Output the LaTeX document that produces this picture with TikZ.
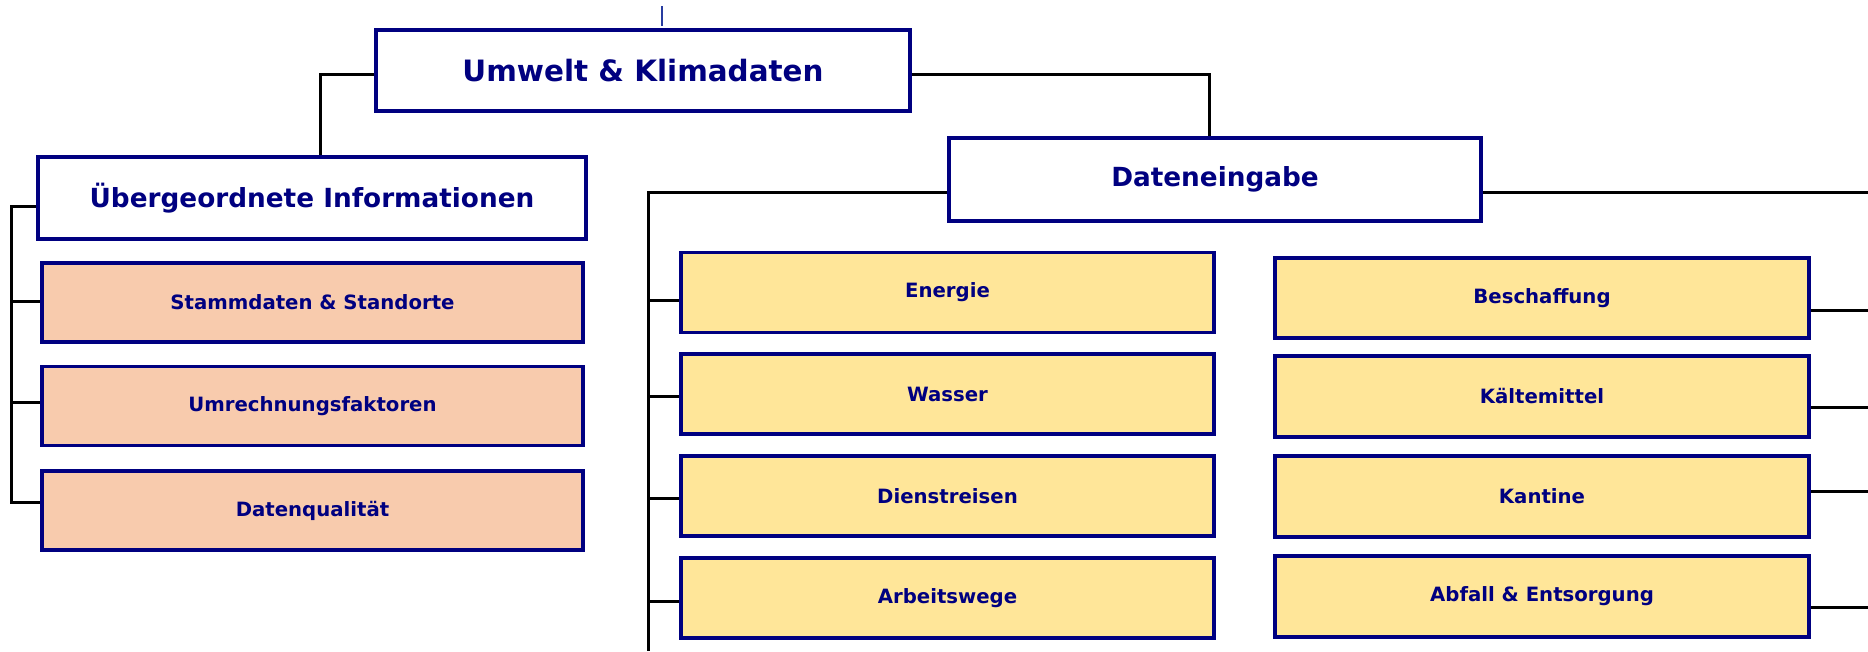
\documentclass[tikz,border=0pt]{standalone}
\usepackage{fontspec}
\setmainfont{DejaVu Sans}
\definecolor{navy}{RGB}{0,0,128}
\definecolor{peach}{RGB}{248,203,173}
\definecolor{sand}{RGB}{255,230,153}
\definecolor{tickblue}{RGB}{40,60,160}
\begin{document}
\begin{tikzpicture}[x=1pt,y=-1pt,
  box/.style={draw=navy,line width=3.2pt,fill=white,text=navy,font=\bfseries,inner sep=0pt,anchor=center},
  bigbox/.style={box,font=\bfseries\fontsize{29.4}{34}\selectfont},
  midbox/.style={box,font=\bfseries\fontsize{26.3}{30}\selectfont},
  leafa/.style={box,fill=peach,font=\bfseries\fontsize{19.7}{24}\selectfont,minimum width=541pt,minimum height=79pt},
  leafb/.style={box,fill=sand,font=\bfseries\fontsize{19.7}{24}\selectfont,minimum width=533pt,minimum height=80pt},
  conn/.style={draw=black,line width=3pt},
  tickline/.style={draw=tickblue,line width=1.8pt}]
\useasboundingbox (0,0) rectangle (1868,651);

% free ends
\coordinate (ticktop) at (662,6);
\coordinate (ticktbot) at (662,26);
\coordinate (ltrunk) at (11,206);
\coordinate (mtop) at (648,192);
\coordinate (mbot) at (648,651);
\coordinate (redge) at (1868,0);

% header boxes
\node[bigbox,minimum width=534pt,minimum height=81pt] (top) at (643,70.5) {Umwelt \& Klimadaten};
\node[midbox,minimum width=548pt,minimum height=82pt] (ueber) at (312,198) {Übergeordnete Informationen};
\node[midbox,minimum width=532pt,minimum height=83pt] (datein) at (1215,179.5) {Dateneingabe};

% left leaves
\node[leafa] (stamm) at (312.5,302.5) {Stammdaten \& Standorte};
\node[leafa] (umrech) at (312.5,406) {Umrechnungsfaktoren};
\node[leafa] (dq) at (312.5,510.5) {Datenqualität};

% middle leaves
\node[leafb] (energie) at (947.5,292.5) {Energie};
\node[leafb] (wasser) at (947.5,394) {Wasser};
\node[leafb] (dienst) at (947.5,496) {Dienstreisen};
\node[leafb] (arbeit) at (947.5,598) {Arbeitswege};

% right leaves
\node[leafb,minimum width=534pt] (besch) at (1542,298) {Beschaffung};
\node[leafb,minimum width=534pt,minimum height=81pt] (kaelte) at (1542,396.5) {Kältemittel};
\node[leafb,minimum width=534pt,minimum height=81pt] (kantine) at (1542,496.5) {Kantine};
\node[leafb,minimum width=534pt,minimum height=81pt] (abfall) at (1542,596.5) {Abfall \& Entsorgung};

% connectors
\draw[tickline] (ticktop) -- (ticktbot);
\draw[conn] ([yshift=-3.5pt]top.west) -| ([xshift=8pt]ueber.north);
\draw[conn] ([yshift=-3.5pt]top.east) -| ([xshift=-6pt]datein.north);

\draw[conn] ([yshift=-8pt]ueber.west) -| ([yshift=7.8pt]dq.west -| ltrunk) -- ([yshift=7.8pt]dq.west);
\draw[conn] ([yshift=1pt]stamm.west -| ltrunk) -- ([yshift=1pt]stamm.west);
\draw[conn] ([yshift=3.3pt]umrech.west -| ltrunk) -- ([yshift=3.3pt]umrech.west);

\draw[conn] ([yshift=-12.5pt]datein.west) -| (mbot);
\draw[conn] ([yshift=-12.5pt]datein.east) -- ([yshift=-12.5pt]datein.east -| redge);
\draw[conn] ([yshift=-8pt]energie.west -| mtop) -- ([yshift=-8pt]energie.west);
\draw[conn] ([yshift=-2pt]wasser.west -| mtop) -- ([yshift=-2pt]wasser.west);
\draw[conn] ([yshift=-2.5pt]dienst.west -| mtop) -- ([yshift=-2.5pt]dienst.west);
\draw[conn] ([yshift=-3pt]arbeit.west -| mtop) -- ([yshift=-3pt]arbeit.west);

\draw[conn] ([yshift=-12pt]besch.east) -- ([yshift=-12pt]besch.east -| redge);
\draw[conn] ([yshift=-11pt]kaelte.east) -- ([yshift=-11pt]kaelte.east -| redge);
\draw[conn] ([yshift=5.5pt]kantine.east) -- ([yshift=5.5pt]kantine.east -| redge);
\draw[conn] ([yshift=-10.5pt]abfall.east) -- ([yshift=-10.5pt]abfall.east -| redge);
\end{tikzpicture}
\end{document}
